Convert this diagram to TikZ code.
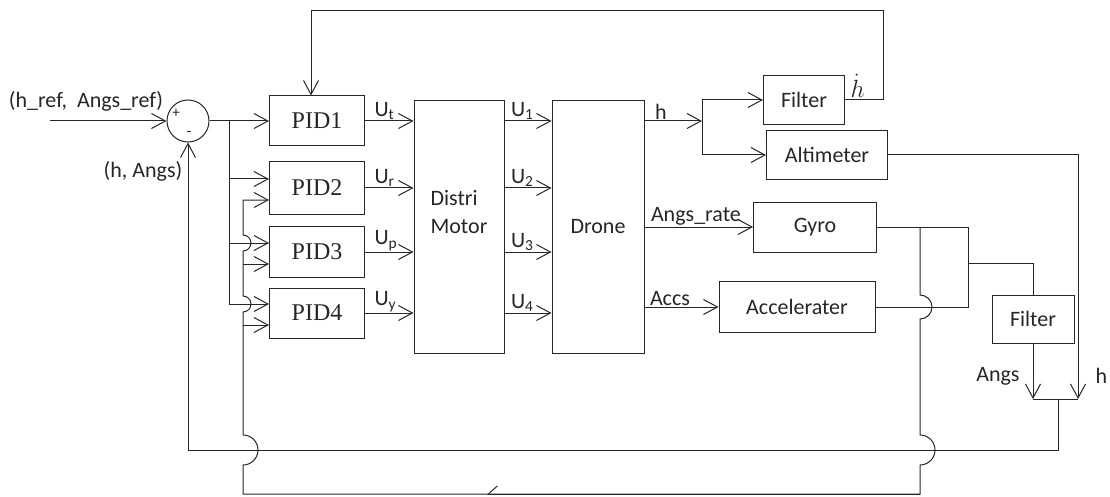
\documentclass[tikz,border=0pt]{standalone}
\usepackage{fontspec}
\setmainfont{Carlito}
\newfontfamily\pidfont{Liberation Serif}
\usetikzlibrary{arrows.meta}

\newcommand{\pidsize}{\fontsize{24}{28}\pidfont}
\newcommand{\lblsize}{\fontsize{22}{28}\selectfont}

\tikzset{
  blk/.style={draw, inner sep=0pt, font=\lblsize},
  pidblk/.style={blk, minimum width=95pt, font=\pidsize},
  lbl/.style={inner sep=1pt, font=\lblsize},
  arr/.style={->},
  harp/.style={-{Straight Barb[right, length=9pt, width=16pt]}}
}

\begin{document}
\begin{tikzpicture}[x=1pt, y=-1pt, line width=1pt, color=black!85,
    >={Straight Barb[length=14pt, width=15pt]}]
  \useasboundingbox (0,0) rectangle (1110,497);

  % summing junction
  \node[circle, draw, minimum size=42pt, inner sep=0pt] (sum) at (188,121) {};
  \node[font=\fontsize{15}{15}\selectfont, inner sep=0pt] (plus) at (176,113) {+};
  \node[font=\fontsize{16}{16}\selectfont, inner sep=0pt] (minus) at (189,134) {-};
  \coordinate (in) at (50,121);
  \draw[arr] (in) -- (sum.west);
  \node[lbl] (lref) at (86,101) {(h\_ref,\ \ Angs\_ref)};
  \node[lbl] (lfb) at (143,171) {(h, Angs)};

  % controllers
  \node[pidblk, minimum height=50pt] (pid1) at (317,121) {PID1};
  \node[pidblk, minimum height=52pt] (pid2) at (317,188) {PID2};
  \node[pidblk, minimum height=51pt] (pid3) at (317,252) {PID3};
  \node[pidblk, minimum height=50pt] (pid4) at (317,313) {PID4};

  \node[blk, minimum width=90pt, minimum height=252pt] (distri) at (459,227)
    {\raisebox{8pt}[0pt][0pt]{\begin{tabular}{@{}l@{}}Distri\\Motor\end{tabular}}};
  \node[blk, minimum width=92pt, minimum height=252pt] (drone) at (598,227) {Drone};

  % sensors
  \node[blk, minimum width=81pt, minimum height=49pt] (filt1) at (804,100) {Filter};
  \node[blk, minimum width=121pt, minimum height=49pt] (alti) at (827,155) {Altimeter};
  \node[blk, minimum width=123pt, minimum height=50pt] (gyro) at (815,227) {Gyro};
  \node[blk, minimum width=156pt, minimum height=51pt] (accel) at (797,307) {Accelerater};
  \node[blk, minimum width=82pt, minimum height=48pt] (filt2) at (1033,319) {Filter};

  % PID inputs
  \coordinate (b1) at (229,121);
  \coordinate (b2) at (243,494);
  \foreach \i in {2,3,4} {
    \coordinate (p\i a) at ([yshift=9pt]pid\i.west);
    \coordinate (p\i b) at ([yshift=-12pt]pid\i.west);
  }
  \draw[arr] (sum.east) -- (pid1.west);
  \draw[arr] (b1 |- p2a) -- (p2a);
  \draw[arr] (b1 |- p3a) -- (p3a);
  \draw[arr] (b1) |- (p4a);
  \draw[arr] (b2 |- p3b) -- (p3b);
  \draw[arr] (b2 |- p4b) -- (p4b);

  % PID outputs and motor commands
  \foreach \i/\s in {1/t,2/r,3/p,4/y} {
    \draw[arr] (pid\i.east) -- (distri.west |- pid\i.east);
    \node[lbl, anchor=south west, xshift=8pt] (lu\s) at (pid\i.east) {U\textsubscript{\s}};
    \draw[arr] (distri.east |- pid\i.east) -- (drone.west |- pid\i.east);
    \node[lbl, anchor=south west, xshift=5pt] (lu\i) at (distri.east |- pid\i.east) {U\textsubscript{\i}};
  }

  % drone outputs
  \coordinate (hb) at (702,121);
  \draw[arr] (drone.east |- pid1.east) -- (hb);
  \node[lbl, anchor=south west, xshift=9pt] (lh) at (drone.east |- pid1.east) {h};
  \draw (hb |- filt1.west) -- (hb |- alti.west);
  \draw[arr] (hb |- filt1.west) -- (filt1.west);
  \draw[arr] (hb |- alti.west) -- (alti.west);
  \draw[arr] (drone.east |- gyro.west) -- (gyro.west);
  \node[lbl, anchor=south west, xshift=5pt] (lar) at (drone.east |- gyro.west) {Angs\_rate};
  \draw[arr] (drone.east |- accel.west) -- (accel.west);
  \node[lbl, anchor=south west, xshift=4pt] (lacc) at (drone.east |- accel.west) {Accs};

  % h dot back to PID1
  \coordinate (ft) at (883,11);
  \draw[arr] (filt1.east) -| (ft) -| ([xshift=-6pt]pid1.north);
  \node[anchor=south west, inner sep=0pt, font=\fontsize{24}{24}\selectfont] (lhd) at ([xshift=5pt, yshift=2pt]filt1.east) {$\dot{h}$};

  % gyro and accelerater into filter
  \coordinate (gm) at (968,227);
  \draw (gyro.east) -- (gm) -- (gm |- accel.east) -- (accel.east);
  \draw (gm |- 0,263) -| (filt2.north);

  % junction of Angs and h
  \coordinate (jc) at (1058,399);
  \coordinate (ja) at (filt2.south |- jc);
  \coordinate (jh) at (1078,399);
  \draw (ja) -- (jh);
  \draw[arr] (filt2.south) -- (ja);
  \draw[arr] (alti.east) -| (jh);
  \node[lbl, anchor=east] (lang) at (1021,376) {Angs};
  \node[lbl, anchor=west] (lhr) at (1094,376) {h};
  \draw[arr] (jc) -- (1058,450) -| (sum.south);

  % Angs_rate back to PID2..PID4
  \coordinate (gj) at (920,227);
  \draw[arr] (gj) -- (920,295) arc[start angle=90, end angle=-90, radius=12pt]
    -- (920,435) arc[start angle=90, end angle=-90, radius=15pt]
    -- (920,494) -- (b2) -- (243,465) arc[start angle=-90, end angle=90, radius=15pt]
    -- (243,312) arc[start angle=-90, end angle=90, radius=8pt]
    -- (243,251) arc[start angle=-90, end angle=90, radius=8pt]
    |- (p2b);
  \draw[harp] (920,494) -- (487,494);
\end{tikzpicture}
\end{document}
